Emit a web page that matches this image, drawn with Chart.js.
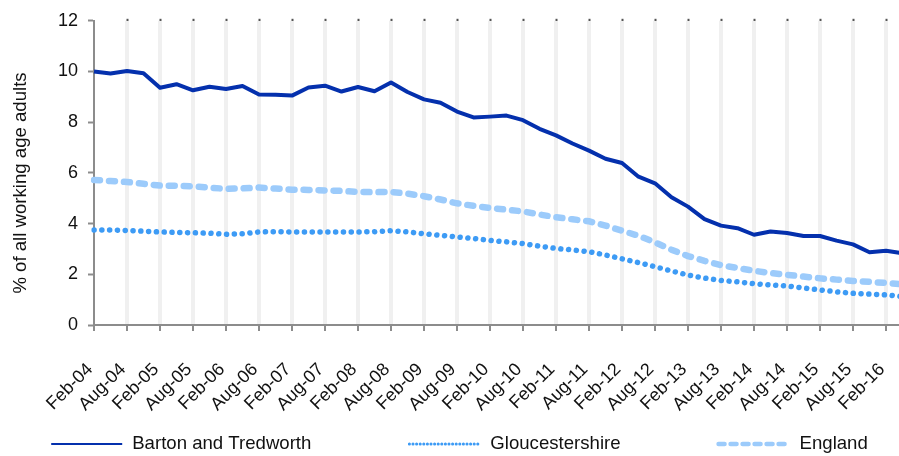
<!DOCTYPE html>
<html>
<head>
<meta charset="utf-8">
<script src="https://cdn.jsdelivr.net/npm/chart.js@4/dist/chart.umd.min.js"></script>
<style>
  html, body { margin: 0; padding: 0; overflow: hidden; background: #fff; }
  #wrap { width: 905px; height: 456px; }
</style>
</head>
<body>
<div id="wrap"><canvas id="claimChart" width="905" height="456"></canvas></div>
<script>
// quarterly points, only Feb / Aug get a label on the axis
const quarters = [
    'Feb-04', 'May-04', 'Aug-04', 'Nov-04', 'Feb-05', 'May-05', 'Aug-05', 'Nov-05',
    'Feb-06', 'May-06', 'Aug-06', 'Nov-06', 'Feb-07', 'May-07', 'Aug-07', 'Nov-07',
    'Feb-08', 'May-08', 'Aug-08', 'Nov-08', 'Feb-09', 'May-09', 'Aug-09', 'Nov-09',
    'Feb-10', 'May-10', 'Aug-10', 'Nov-10', 'Feb-11', 'May-11', 'Aug-11', 'Nov-11',
    'Feb-12', 'May-12', 'Aug-12', 'Nov-12', 'Feb-13', 'May-13', 'Aug-13', 'Nov-13',
    'Feb-14', 'May-14', 'Aug-14', 'Nov-14', 'Feb-15', 'May-15', 'Aug-15', 'Nov-15',
    'Feb-16', 'May-16'
];

const bartonTredworth = [
    10.0, 9.92, 10.02, 9.93, 9.36, 9.50, 9.26, 9.40, 9.31, 9.43,
    9.09, 9.08, 9.05, 9.37, 9.44, 9.21, 9.39, 9.22, 9.57, 9.19,
    8.90, 8.77, 8.42, 8.19, 8.22, 8.26, 8.08, 7.74, 7.48, 7.16,
    6.88, 6.56, 6.39, 5.85, 5.59, 5.04, 4.67, 4.18, 3.92, 3.82,
    3.56, 3.69, 3.63, 3.51, 3.51, 3.33, 3.18, 2.87, 2.93, 2.83
];

const gloucestershire = [
    3.75, 3.75, 3.73, 3.70, 3.67, 3.65, 3.64, 3.62, 3.58, 3.60,
    3.67, 3.68, 3.67, 3.67, 3.67, 3.67, 3.67, 3.68, 3.72, 3.67,
    3.60, 3.54, 3.47, 3.41, 3.34, 3.28, 3.21, 3.11, 3.02, 2.96,
    2.89, 2.76, 2.61, 2.46, 2.30, 2.13, 1.97, 1.85, 1.76, 1.70,
    1.63, 1.58, 1.54, 1.46, 1.38, 1.31, 1.25, 1.22, 1.19, 1.12
];

const england = [
    5.72, 5.68, 5.64, 5.57, 5.50, 5.49, 5.47, 5.42, 5.37, 5.39,
    5.42, 5.38, 5.34, 5.33, 5.31, 5.29, 5.25, 5.24, 5.25, 5.18,
    5.08, 4.95, 4.80, 4.70, 4.62, 4.55, 4.48, 4.36, 4.25, 4.17,
    4.09, 3.92, 3.72, 3.52, 3.26, 2.97, 2.72, 2.53, 2.36, 2.25,
    2.14, 2.05, 1.98, 1.91, 1.84, 1.79, 1.74, 1.70, 1.66, 1.61
];

const yTicks = [0, 2, 4, 6, 8, 10, 12];
const yTitle = '% of all working age adults';

const FONT = '"Liberation Sans", Arial, sans-serif';
const TEXT = '#111';
const AXIS = '#8c8c8c';
const BAND = '#f0f0f0';
const NONE = 'rgba(0,0,0,0)';

// legend + y title drawn by hand so spacing matches the original
const extras = {
    id: 'extras',
    afterDraw(chart) {
        const ctx = chart.ctx;
        const sample = 71, gap = 10, spacing = 98, y = 444;
        ctx.save();
        ctx.font = '18.6px ' + FONT;
        ctx.fillStyle = TEXT;
        ctx.textBaseline = 'middle';

        const items = chart.data.datasets.map(ds => ({ ds, w: sample + gap + ctx.measureText(ds.label).width }));
        const total = items.reduce((s, it) => s + it.w, 0) + spacing * (items.length - 1);
        let x = 459.5 - total / 2;
        items.forEach(({ ds, w }) => {
            ctx.beginPath();
            ctx.strokeStyle = ds.borderColor;
            ctx.lineWidth = ds.legendWidth;
            ctx.lineCap = ds.borderCapStyle || 'butt';
            ctx.setLineDash(ds.legendDash);
            ctx.moveTo(x, y);
            ctx.lineTo(x + sample, y);
            ctx.stroke();
            ctx.setLineDash([]);
            ctx.fillText(ds.label, x + sample + gap, y);
            x += w + spacing;
        });

        ctx.translate(21, 183);
        ctx.rotate(-Math.PI / 2);
        ctx.textAlign = 'center';
        ctx.fillText(yTitle, 0, 0);
        ctx.restore();
    }
};

const everyOther = (c, on) => c.index % 2 === 0 ? on : NONE;

const ctx = document.getElementById('claimChart').getContext('2d');
new Chart(ctx, {
    type: 'line',
    data: {
        labels: quarters,
        datasets: [{
            label: 'Barton and Tredworth',
            data: bartonTredworth,
            borderColor: '#0430ad',
            borderWidth: 4,
            borderJoinStyle: 'round',
            legendWidth: 2,
            legendDash: [],
            pointRadius: 0,
            tension: 0,
            order: 1
        }, {
            label: 'Gloucestershire',
            data: gloucestershire,
            borderColor: '#3d9bf5',
            borderWidth: 5.5,
            borderDash: [0.1, 7.7],
            borderCapStyle: 'round',
            legendWidth: 3,
            legendDash: [0.1, 3.5],
            pointRadius: 0,
            tension: 0,
            order: 2
        }, {
            label: 'England',
            data: england,
            borderColor: '#9ccbfb',
            borderWidth: 6.5,
            borderDash: [6, 9],
            borderCapStyle: 'round',
            legendWidth: 4.5,
            legendDash: [6, 6],
            pointRadius: 0,
            tension: 0,
            order: 3
        }]
    },
    options: {
        responsive: false,
        animation: false,
        layout: { padding: { top: 12, right: 2.5, bottom: 26, left: 0 } },
        plugins: {
            legend: { display: false },
            tooltip: { enabled: false }
        },
        scales: {
            x: {
                offset: false,
                border: { color: AXIS, width: 2 },
                grid: {
                    color: c => c.index > 0 ? everyOther(c, BAND) : NONE,
                    lineWidth: 4,
                    tickColor: c => everyOther(c, AXIS),
                    tickWidth: 2,
                    tickLength: 6
                },
                ticks: {
                    autoSkip: false,
                    minRotation: 45,
                    maxRotation: 45,
                    padding: 28,
                    labelOffset: -4,
                    color: TEXT,
                    font: { family: FONT, size: 18 },
                    callback: (v, i) => i % 2 === 0 ? quarters[i] : ''
                },
                afterFit: s => { s.height = 105; s.paddingLeft = 0; s.paddingRight = 0; }
            },
            // only carries the little dark marks along the top edge
            xTop: {
                position: 'top',
                offset: false,
                border: { display: false },
                grid: {
                    drawOnChartArea: false,
                    tickColor: c => c.index > 0 ? everyOther(c, '#555') : NONE,
                    tickWidth: 2,
                    tickLength: 2
                },
                ticks: { display: false },
                afterFit: s => { s.paddingLeft = 0; s.paddingRight = 0; }
            },
            y: {
                min: 0,
                max: 12,
                afterBuildTicks: s => { s.ticks = yTicks.map(v => ({ value: v })); },
                border: { color: AXIS, width: 2 },
                grid: {
                    drawOnChartArea: false,
                    tickColor: AXIS,
                    tickWidth: 2,
                    tickLength: 6
                },
                ticks: {
                    padding: 10,
                    color: TEXT,
                    font: { family: FONT, size: 18 }
                },
                afterFit: s => { s.width = 94; }
            }
        }
    },
    plugins: [extras]
});
</script>
</body>
</html>
